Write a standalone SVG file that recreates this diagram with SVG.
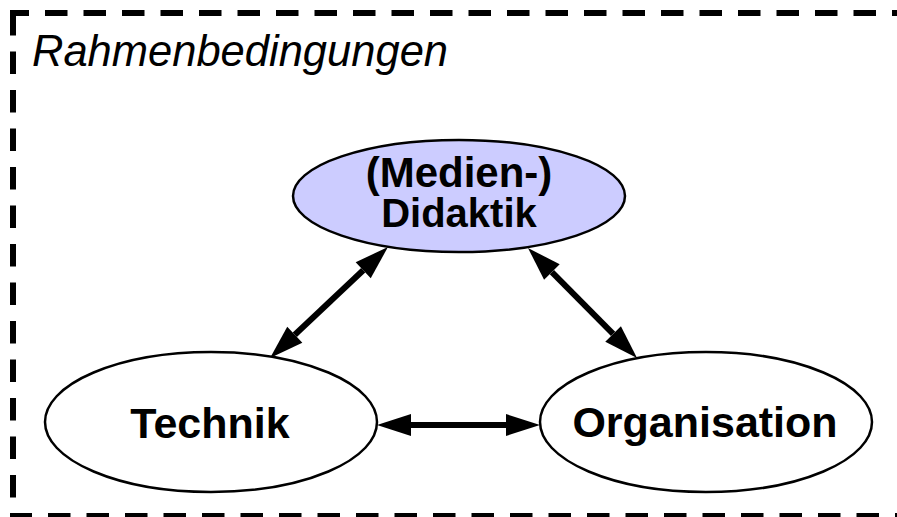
<svg xmlns="http://www.w3.org/2000/svg" width="897" height="517" viewBox="0 0 897 517">
  <style>
    .frame { stroke: #000; stroke-width: 6; fill: none; stroke-dasharray: 22.5 16; }
    .node { stroke: #000; stroke-width: 2.5; fill: #fff; }
    .label { font-family: "Liberation Sans", Arial, sans-serif; font-weight: bold; fill: #000; text-anchor: middle; }
    .conn { stroke: #000; stroke-width: 6; fill: none; marker-start: url(#head); marker-end: url(#head); }
  </style>
  <defs>
    <marker id="head" markerUnits="userSpaceOnUse" markerWidth="34" markerHeight="22" refX="0" refY="11" orient="auto-start-reverse" overflow="visible">
      <path d="M0,0 L34,11 L0,22 z" fill="#000"/>
    </marker>
  </defs>
  <rect width="897" height="517" fill="#fff"/>

  <!-- dashed frame (right side lies outside the canvas) -->
  <g id="frame">
    <line class="frame" x1="10" y1="13" x2="900" y2="13" stroke-dashoffset="3.5"/>
    <line class="frame" x1="13" y1="13" x2="13" y2="516"/>
    <line class="frame" x1="10" y1="516" x2="900" y2="516" stroke-dashoffset="0.5"/>
    <text x="32" y="66" font-family="'Liberation Sans', Arial, sans-serif" font-style="italic" font-size="43.5" fill="#000">Rahmenbedingungen</text>
  </g>

  <g id="connectors">
    <line class="conn" x1="363.2" y1="270.3" x2="294.8" y2="334.7"/>
    <line class="conn" x1="551.9" y1="272.1" x2="613.1" y2="333.9"/>
    <line class="conn" x1="411" y1="425" x2="506" y2="425"/>
  </g>

  <g id="didaktik">
    <ellipse class="node" cx="459" cy="196" rx="166" ry="56" style="fill:#ccccff"/>
    <text class="label" x="459" y="187" font-size="42">(Medien-)</text>
    <text class="label" x="459" y="227" font-size="40">Didaktik</text>
  </g>

  <g id="technik">
    <ellipse class="node" cx="211" cy="422" rx="166" ry="70"/>
    <text class="label" x="210" y="438" font-size="43">Technik</text>
  </g>

  <g id="organisation">
    <ellipse class="node" cx="706" cy="422" rx="166" ry="70"/>
    <text class="label" x="705" y="437" font-size="43">Organisation</text>
  </g>
</svg>
